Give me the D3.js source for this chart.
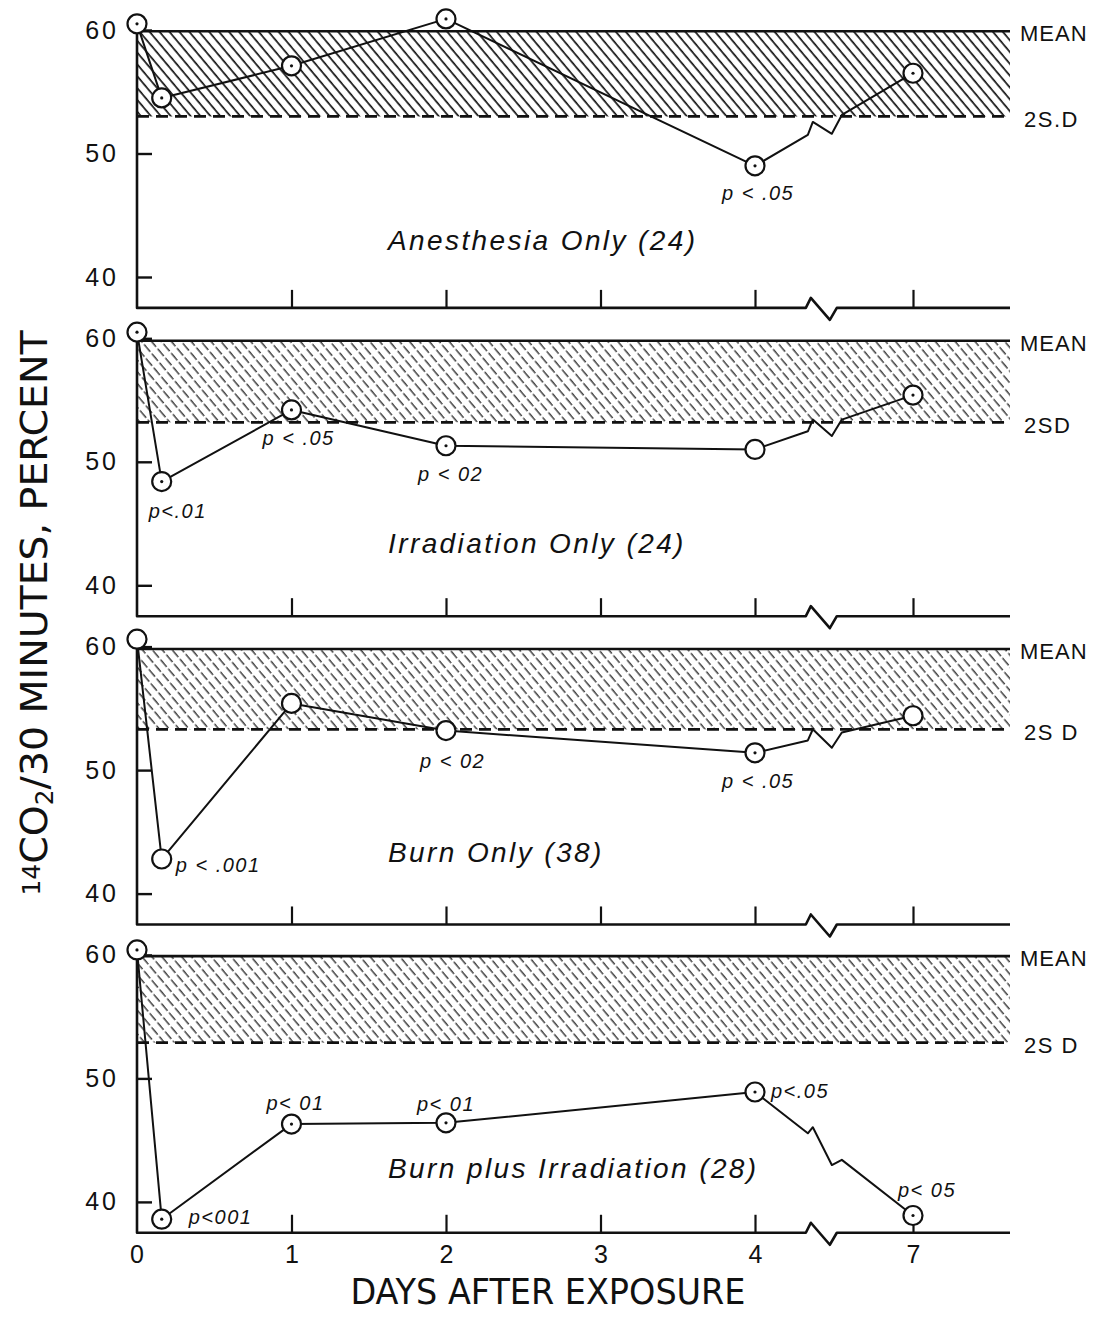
<!DOCTYPE html>
<html>
<head>
<meta charset="utf-8">
<script src="https://cdn.jsdelivr.net/npm/d3@7/dist/d3.min.js"></script>
<style>
  body { margin: 0; background: #fff; }
  text { fill: #111; font-family: "Liberation Sans", Arial, sans-serif; }
</style>
</head>
<body>
<div id="chart"></div>
<script>
// values
var panelTitles = ["Anesthesia Only (24)", "Irradiation Only (24)", "Burn Only (38)", "Burn plus Irradiation (28)"];
var days = [0, 0.16, 1.0, 2.0, 4.0, 7.0];
var anesthesia  = [60.5, 54.5, 57.1, 60.9, 49.0, 56.5];
var irradiation = [60.5, 48.4, 54.2, 51.3, 51.0, 55.4];
var burn        = [60.6, 42.8, 55.4, 53.2, 51.4, 54.4];
var burnIrr     = [60.4, 38.6, 46.3, 46.4, 48.9, 38.9];
var series = [anesthesia, irradiation, burn, burnIrr];

var meanVals = [59.9, 59.8, 59.8, 59.9];
var sdVals   = [53.0, 53.2, 53.3, 52.9];
var meanLabels = ["MEAN", "MEAN", "MEAN", "MEAN"];
var sdLabels   = ["2S.D", "2SD", "2S D", "2S D"];

var yTicks = [40, 50, 60];
var xTicks = [0, 1, 2, 3, 4, 7];

// p value notes: panel, point index, text
var pNotes = [
  [0, 4, "p < .05"],
  [1, 1, "p<.01"], [1, 2, "p < .05"], [1, 3, "p < 02"],
  [2, 1, "p < .001"], [2, 3, "p < 02"], [2, 4, "p < .05"],
  [3, 1, "p<001"], [3, 2, "p< 01"], [3, 3, "p< 01"], [3, 4, "p<.05"], [3, 5, "p< 05"]
];

// layout only
var pOffsets = [[-33, 34], [-13, 36], [-29, 35], [-28, 35], [14, 13], [-26, 37], [-33, 35],
                [27, 5], [-25, -14], [-29, -12], [16, 6], [-15, -18]];
var dotted = [[1,1,1,1,1,1], [1,1,1,1,0,1], [0,0,0,0,1,0], [1,1,1,1,1,1]];
var titleY = [250, 553, 862, 1178];

var W = 1094, H = 1318;
var panelStep = 308.3, firstTop = 30;
var xEndDay = 7.62, breakDay = 5.25;

var x = d3.scaleLinear()
    .domain([0, 4, 7, xEndDay])
    .range([137, 755, 913, 1010]);

var svg = d3.select("#chart").append("svg")
    .attr("width", W)
    .attr("height", H);

var defs = svg.append("defs");

function hatch(id, width, dash) {
    var p = defs.append("pattern")
        .attr("id", id)
        .attr("patternUnits", "userSpaceOnUse")
        .attr("width", 7.6)
        .attr("height", 12)
        .attr("patternTransform", "rotate(-40)");
    p.append("line")
        .attr("x1", 3).attr("y1", 0).attr("x2", 3).attr("y2", 12)
        .attr("stroke", "#111")
        .attr("stroke-width", width)
        .attr("stroke-dasharray", dash);
}
hatch("hatch0", 1.7, null);
hatch("hatch1", 1.2, "6,2.5");

var line = d3.line();

series.forEach(function(vals, i) {
    var top = firstTop + i * panelStep;
    var y = d3.scaleLinear().domain([40, 60]).range([top + 247, top]);
    var g = svg.append("g");
    var yBottom = y(37.5);
    var xEnd = x(xEndDay);
    var bx = x(breakDay);

    // shaded band between mean and 2 SD
    g.append("rect")
        .attr("x", x(0))
        .attr("y", y(meanVals[i]))
        .attr("width", xEnd - x(0))
        .attr("height", y(sdVals[i]) - y(meanVals[i]))
        .attr("fill", i === 0 ? "url(#hatch0)" : "url(#hatch1)");

    g.append("line")
        .attr("x1", x(0)).attr("x2", xEnd)
        .attr("y1", y(meanVals[i])).attr("y2", y(meanVals[i]))
        .attr("stroke", "#111").attr("stroke-width", 2.6);

    g.append("line")
        .attr("x1", x(0)).attr("x2", xEnd)
        .attr("y1", y(sdVals[i])).attr("y2", y(sdVals[i]))
        .attr("stroke", "#111").attr("stroke-width", 2.8)
        .attr("stroke-dasharray", "12,7");

    g.append("text")
        .attr("x", xEnd + 10)
        .attr("y", y(meanVals[i]) + 4)
        .attr("dominant-baseline", "middle")
        .style("font-size", "22px")
        .style("letter-spacing", "1px")
        .text(meanLabels[i]);

    g.append("text")
        .attr("x", xEnd + 14)
        .attr("y", y(sdVals[i]) + 5)
        .attr("dominant-baseline", "middle")
        .style("font-size", "22px")
        .style("letter-spacing", "1.5px")
        .text(sdLabels[i]);

    // left axis and broken bottom axis
    g.append("path")
        .attr("d", line([[x(0), y(meanVals[i])], [x(0), yBottom], [bx - 15, yBottom],
                         [bx - 10, yBottom - 10], [bx + 9, yBottom + 12], [bx + 16, yBottom], [xEnd, yBottom]]))
        .attr("fill", "none").attr("stroke", "#111").attr("stroke-width", 2.6)
        .attr("stroke-linejoin", "round");

    var yAxis = d3.axisLeft(y)
        .tickValues(yTicks)
        .tickSize(-15)
        .tickPadding(18)
        .tickFormat(d3.format("d"));
    var ya = g.append("g")
        .attr("transform", "translate(" + x(0) + ",0)")
        .call(yAxis);
    ya.select(".domain").remove();
    ya.selectAll(".tick line").attr("stroke", "#111").attr("stroke-width", 2.4);
    ya.selectAll(".tick text")
        .style("font-size", "25px")
        .style("letter-spacing", "3px")
        .attr("fill", "#111");

    var xAxis = d3.axisBottom(x)
        .tickValues(xTicks.slice(1))
        .tickSize(-18)
        .tickPadding(12)
        .tickFormat(i === 3 ? d3.format("d") : "");
    var xa = g.append("g")
        .attr("transform", "translate(0," + yBottom + ")")
        .call(xAxis);
    xa.select(".domain").remove();
    xa.selectAll(".tick line").attr("stroke", "#111").attr("stroke-width", 2.2);
    xa.selectAll(".tick text").style("font-size", "25px").attr("fill", "#111");
    if (i === 3) {
        xa.append("text")
            .attr("x", x(0))
            .attr("y", 12)
            .attr("dy", "0.71em")
            .attr("text-anchor", "middle")
            .style("font-size", "25px")
            .text(d3.format("d")(xTicks[0]));
    }

    // data line with a break between day 4 and day 7
    var pts = days.map(function(d, k) { return [x(d), y(vals[k])]; });
    var a = pts[4], b = pts[5];
    function onLine(px) { return a[1] + (b[1] - a[1]) * (px - a[0]) / (b[0] - a[0]); }
    var path = pts.slice(0, 5).concat([
        [bx - 13, onLine(bx - 13)],
        [bx - 8, onLine(bx - 8) - 10],
        [bx + 11, onLine(bx + 11) + 13],
        [bx + 21, onLine(bx + 21)],
        b
    ]);
    g.append("path")
        .attr("d", line(path))
        .attr("fill", "none").attr("stroke", "#111").attr("stroke-width", 2)
        .attr("stroke-linejoin", "round");

    g.selectAll("circle.pt")
        .data(pts)
        .enter().append("circle")
        .attr("class", "pt")
        .attr("cx", function(d) { return d[0]; })
        .attr("cy", function(d) { return d[1]; })
        .attr("r", 9.5)
        .attr("fill", "#fff")
        .attr("stroke", "#111")
        .attr("stroke-width", 2.2);

    g.selectAll("circle.dot")
        .data(pts.filter(function(d, k) { return dotted[i][k]; }))
        .enter().append("circle")
        .attr("class", "dot")
        .attr("cx", function(d) { return d[0]; })
        .attr("cy", function(d) { return d[1]; })
        .attr("r", 1.6)
        .attr("fill", "#111");

    pNotes.forEach(function(n, j) {
        if (n[0] !== i) return;
        var p = pts[n[1]];
        g.append("text")
            .attr("x", p[0] + pOffsets[j][0])
            .attr("y", p[1] + pOffsets[j][1])
            .style("font-size", "20px")
            .style("font-style", "italic")
            .style("letter-spacing", "1.5px")
            .text(n[2]);
    });

    g.append("text")
        .attr("x", 388)
        .attr("y", titleY[i])
        .style("font-size", "28px")
        .style("font-style", "italic")
        .style("letter-spacing", "2.4px")
        .text(panelTitles[i]);
});

// axis titles
svg.append("text")
    .attr("x", 548)
    .attr("y", 1304)
    .attr("text-anchor", "middle")
    .attr("textLength", 395)
    .attr("lengthAdjust", "spacingAndGlyphs")
    .style("font-family", "'Liberation Sans Narrow', 'DejaVu Sans Condensed', sans-serif")
    .style("font-size", "36px")
    .text("DAYS AFTER EXPOSURE");

var yt = svg.append("text")
    .attr("transform", "translate(47,613) rotate(-90)")
    .attr("text-anchor", "middle")
    .attr("textLength", 565)
    .attr("lengthAdjust", "spacingAndGlyphs")
    .style("font-family", "'Liberation Sans Narrow', 'DejaVu Sans Condensed', sans-serif")
    .style("font-size", "38px");
yt.append("tspan").attr("baseline-shift", "28%").style("font-size", "24px").text("14");
yt.append("tspan").text("CO");
yt.append("tspan").attr("baseline-shift", "-25%").style("font-size", "24px").text("2");
yt.append("tspan").text("/30 MINUTES, PERCENT");
</script>
</body>
</html>
